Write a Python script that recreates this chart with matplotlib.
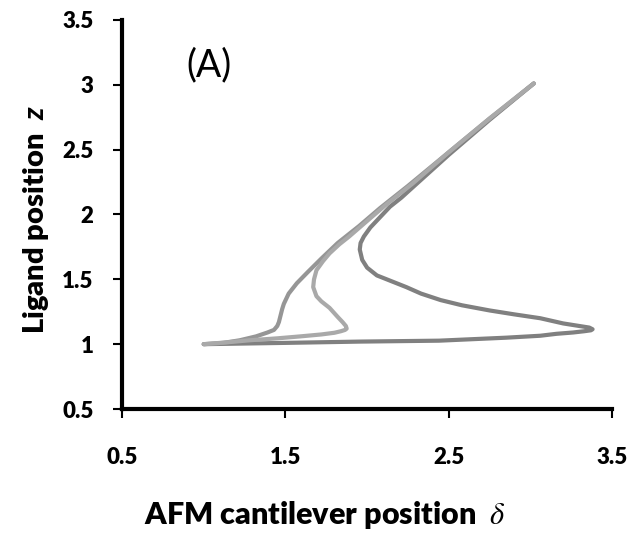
import matplotlib
matplotlib.use('Agg')
import matplotlib.pyplot as plt

plt.rcParams['font.family'] = ['Lato', 'DejaVu Sans']
plt.rcParams['mathtext.fontset'] = 'custom'
plt.rcParams['mathtext.it'] = 'Lato:italic:bold'

# (delta, z), each curve from start (1,1) to end (3,3)
dark_delta = [1.00, 1.50, 1.96, 2.44, 2.85, 3.06, 3.16, 3.26, 3.33, 3.37, 3.38, 3.36, 3.30,
              3.20, 3.06, 2.90, 2.75, 2.58, 2.45, 2.33, 2.24, 2.14, 2.06, 2.00, 1.97,
              1.955, 1.96, 1.98, 2.02, 2.08, 2.14, 2.21, 2.28, 2.50, 2.75, 3.02]
dark_z = [1.00, 1.01, 1.02, 1.027, 1.05, 1.065, 1.08, 1.09, 1.10, 1.107, 1.115, 1.128, 1.14,
          1.16, 1.20, 1.23, 1.26, 1.30, 1.34, 1.39, 1.44, 1.49, 1.53, 1.59, 1.65,
          1.73, 1.78, 1.83, 1.90, 1.98, 2.06, 2.13, 2.21, 2.46, 2.73, 3.01]

left_delta = [1.00, 1.12, 1.22, 1.32, 1.39, 1.43, 1.45, 1.46, 1.47, 1.48, 1.49, 1.52,
              1.57, 1.64, 1.72, 1.82, 1.95, 2.08, 2.25, 2.50, 2.75, 3.02]
left_z = [1.00, 1.01, 1.03, 1.06, 1.09, 1.11, 1.14, 1.17, 1.22, 1.27, 1.31, 1.39,
          1.47, 1.56, 1.66, 1.78, 1.91, 2.05, 2.22, 2.48, 2.74, 3.01]

light_delta = [1.00, 1.15, 1.28, 1.45, 1.59, 1.72, 1.80, 1.84, 1.865, 1.875, 1.87, 1.85,
               1.82, 1.77, 1.72, 1.69, 1.67, 1.675, 1.69, 1.73, 1.77, 1.83, 1.89,
               2.00, 2.12, 2.28, 2.50, 2.75, 3.02]
light_z = [1.00, 1.015, 1.03, 1.045, 1.06, 1.075, 1.088, 1.10, 1.11, 1.12, 1.14, 1.17,
           1.21, 1.28, 1.33, 1.37, 1.44, 1.50, 1.57, 1.64, 1.70, 1.77, 1.83,
           1.95, 2.08, 2.24, 2.48, 2.74, 3.01]

xticks = [0.5, 1.5, 2.5, 3.5]
yticks = [0.5, 1, 1.5, 2, 2.5, 3, 3.5]
ytick_labels = ['0.5', '1', '1.5', '2', '2.5', '3', '3.5']

fig = plt.figure(figsize=(6.39, 5.33), dpi=100)
ax = fig.add_axes([0.191, 0.2326, 0.767, 0.730])

style = dict(lw=3, solid_joinstyle='round', solid_capstyle='round')
ax.plot(dark_delta, dark_z, color='#808080', **style)
ax.plot(left_delta, left_z, color='#969696', **style)
ax.plot(light_delta, light_z, color='#a9a9a9', **style)

ax.set_xlim(0.5, 3.5)
ax.set_ylim(0.5, 3.5)
ax.set_xticks(xticks)
ax.set_xticklabels([str(t) for t in xticks], fontweight='heavy', fontsize=16)
ax.set_yticks(yticks)
ax.set_yticklabels(ytick_labels, fontweight='heavy', fontsize=16)
ax.tick_params(direction='out', length=6.5, width=1.5)
ax.tick_params(axis='x', pad=21)
ax.tick_params(axis='y', pad=14)

for s in ['top', 'right']:
    ax.spines[s].set_visible(False)
for s in ['left', 'bottom']:
    ax.spines[s].set_linewidth(3)

fig.text(209 / 639, 1 - 65 / 533, '(A)', fontsize=27, ha='center', va='center')

fig.text(36 / 639, 1 - 220 / 533, 'Ligand position  $z$', rotation=90,
         fontsize=21, fontweight='heavy', ha='center', va='center')
fig.text(325 / 639, 1 - 515 / 533, 'AFM cantilever position  $\\delta$',
         fontsize=22, fontweight='heavy', ha='center', va='center', math_fontfamily='stix')

fig.savefig('out.png', dpi=100)
